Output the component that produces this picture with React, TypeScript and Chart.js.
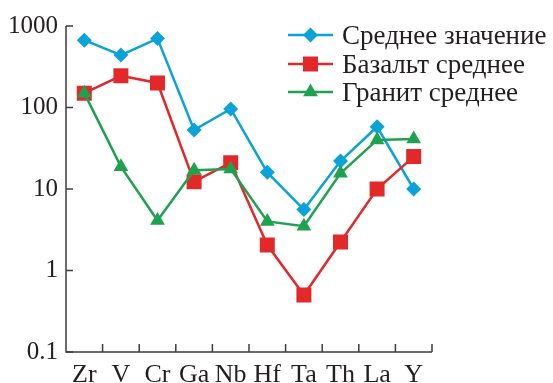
import React, { useEffect, useRef } from 'react';
import { Chart, registerables } from 'chart.js';

Chart.register(...registerables);

const categories = ['Zr', 'V', 'Cr', 'Ga', 'Nb', 'Hf', 'Ta', 'Th', 'La', 'Y'];
const averageValues = [670, 440, 700, 53, 96, 16, 5.6, 22, 58, 10];
const basaltValues = [150, 245, 200, 12.3, 21, 2.05, 0.5, 2.24, 10, 25];
const graniteValues = [150, 18.8, 4.1, 17, 17.6, 4.0, 3.5, 15.6, 40, 41];
const yTickValues = [0.1, 1, 10, 100, 1000];
const seriesNames = ['Среднее значение', 'Базальт среднее', 'Гранит среднее'];

const BLUE = '#0aa3d8';
const RED = '#e3282a';
const GREEN = '#1ea24f';
const TEXT = '#231f20';
const AXIS = '#3c3c3c';
const FONT = '"Liberation Serif", "Times New Roman", serif';

function drawMarker(ctx: CanvasRenderingContext2D, kind: string, x: number, y: number, color: string) {
  ctx.save();
  ctx.fillStyle = color;
  ctx.beginPath();
  if (kind === 'diamond') {
    const r = 7.5;
    ctx.moveTo(x, y - r);
    ctx.lineTo(x + r, y);
    ctx.lineTo(x, y + r);
    ctx.lineTo(x - r, y);
  } else if (kind === 'square') {
    const h = 7.5;
    ctx.rect(x - h, y - h, 2 * h, 2 * h);
  } else {
    const r = 8.5;
    ctx.moveTo(x, y - r);
    ctx.lineTo(x + r * 0.866, y + r / 2);
    ctx.lineTo(x - r * 0.866, y + r / 2);
  }
  ctx.closePath();
  ctx.fill();
  ctx.restore();
}

const axesPlugin = {
  id: 'customAxes',
  afterDraw(chart: any) {
    const { ctx, chartArea } = chart;
    const { left, right, top, bottom } = chartArea;
    ctx.save();
    ctx.strokeStyle = AXIS;
    ctx.lineWidth = 1.5;
    ctx.beginPath();
    ctx.moveTo(left, top);
    ctx.lineTo(left, bottom);
    ctx.lineTo(right, bottom);
    ctx.stroke();
    const ys = chart.scales.y;
    yTickValues.forEach((v) => {
      const py = ys.getPixelForValue(v);
      ctx.beginPath();
      ctx.moveTo(left, py);
      ctx.lineTo(left + 7, py);
      ctx.stroke();
    });
    const n = categories.length;
    const w = (right - left) / n;
    for (let k = 1; k <= n; k++) {
      const px = left + k * w;
      ctx.beginPath();
      ctx.moveTo(px, bottom);
      ctx.lineTo(px, bottom - 8);
      ctx.stroke();
    }
    ctx.restore();
  },
};

const legendPlugin = {
  id: 'customLegend',
  afterDraw(chart: any) {
    const { ctx } = chart;
    const items = [
      { name: seriesNames[0], color: BLUE, kind: 'diamond' },
      { name: seriesNames[1], color: RED, kind: 'square' },
      { name: seriesNames[2], color: GREEN, kind: 'triangle' },
    ];
    const rowY = [35, 64, 92];
    ctx.save();
    items.forEach((it, i) => {
      const y = rowY[i];
      ctx.strokeStyle = it.color;
      ctx.lineWidth = 2.5;
      ctx.beginPath();
      ctx.moveTo(288, y);
      ctx.lineTo(333, y);
      ctx.stroke();
      drawMarker(ctx, it.kind, 310.5, y, it.color);
      ctx.fillStyle = TEXT;
      ctx.font = `27px ${FONT}`;
      ctx.textBaseline = 'alphabetic';
      ctx.textAlign = 'left';
      ctx.fillText(it.name, 342, y + 8.5);
    });
    ctx.restore();
  },
};

export default function App() {
  const ref = useRef<HTMLCanvasElement | null>(null);

  useEffect(() => {
    document.body.style.margin = '0';
    const canvas = ref.current;
    if (!canvas) return;
    const chart = new Chart(canvas, {
      type: 'line',
      data: {
        labels: categories,
        datasets: [
          {
            label: seriesNames[0],
            data: averageValues,
            borderColor: BLUE,
            backgroundColor: BLUE,
            borderWidth: 2.5,
            pointStyle: 'rectRot',
            pointRadius: 7.5,
            pointHoverRadius: 7.5,
            pointBorderWidth: 0,
            tension: 0,
            order: 2,
          },
          {
            label: seriesNames[1],
            data: basaltValues,
            borderColor: RED,
            backgroundColor: RED,
            borderWidth: 2.5,
            pointStyle: 'rect',
            pointRadius: 10.6,
            pointHoverRadius: 10.6,
            pointBorderWidth: 0,
            tension: 0,
            order: 1,
          },
          {
            label: seriesNames[2],
            data: graniteValues,
            borderColor: GREEN,
            backgroundColor: GREEN,
            borderWidth: 2.5,
            pointStyle: 'triangle',
            pointRadius: 8.5,
            pointHoverRadius: 8.5,
            pointBorderWidth: 0,
            tension: 0,
            order: 0,
          },
        ],
      },
      options: {
        responsive: false,
        animation: false,
        events: [],
        layout: { padding: { top: 26, right: 121, left: 0, bottom: 0 } },
        plugins: {
          legend: { display: false },
          tooltip: { enabled: false },
        },
        scales: {
          x: {
            type: 'category',
            offset: true,
            grid: { display: false, drawTicks: false },
            border: { display: false },
            ticks: {
              color: TEXT,
              font: { family: FONT, size: 26 },
              padding: 8,
              maxRotation: 0,
              autoSkip: false,
            },
            afterFit: (s: any) => {
              s.height = 31;
            },
          },
          y: {
            type: 'logarithmic',
            min: 0.1,
            max: 1000,
            grid: { display: false, drawTicks: false },
            border: { display: false },
            ticks: {
              color: TEXT,
              font: { family: FONT, size: 25 },
              padding: 8,
              callback: (v: any) => String(v),
            },
            afterBuildTicks: (s: any) => {
              s.ticks = yTickValues.map((v) => ({ value: v }));
            },
            afterFit: (s: any) => {
              s.width = 66;
            },
          },
        },
      },
      plugins: [axesPlugin, legendPlugin],
    });
    return () => chart.destroy();
  }, []);

  return (
    <div style={{ position: 'absolute', left: 0, top: 0, width: 553, height: 383, background: '#fff' }}>
      <canvas ref={ref} width={553} height={383} />
    </div>
  );
}
